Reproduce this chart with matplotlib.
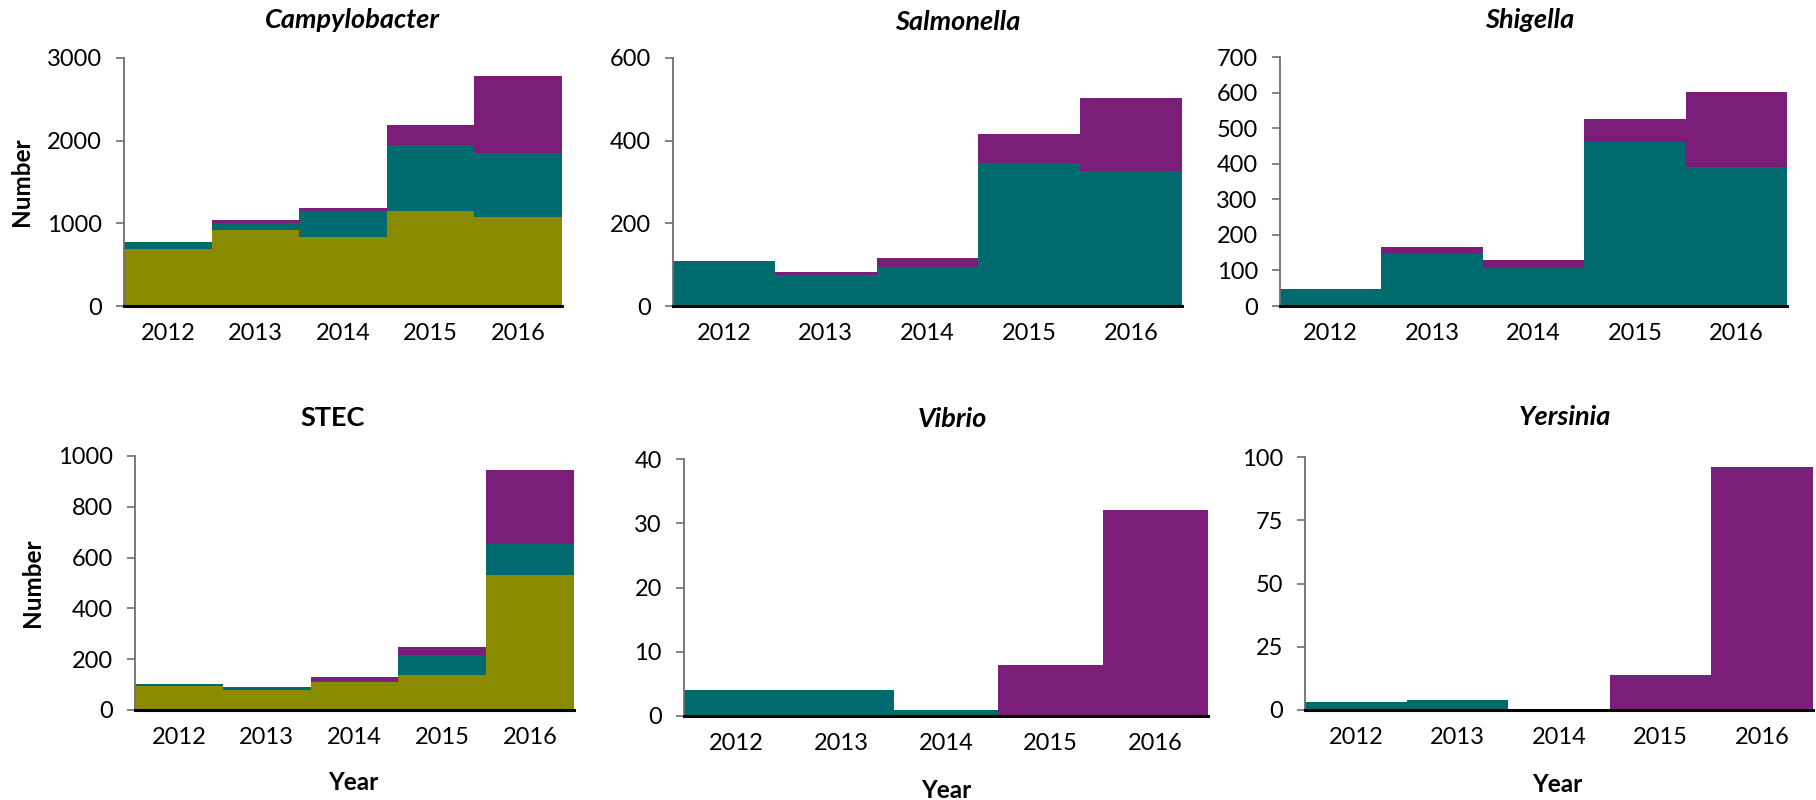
import matplotlib

matplotlib.use("Agg")
import matplotlib.pyplot as plt

plt.rcParams["font.family"] = ["Lato", "DejaVu Sans"]

years = ["2012", "2013", "2014", "2015", "2016"]

# stacked parts per organism: olive (bottom), teal (middle), purple (top)
campy_olive = [685, 918, 838, 1152, 1082]
campy_teal = [84, 89, 310, 793, 767]
campy_purple = [0, 32, 36, 250, 938]

salmo_olive = [0, 0, 0, 0, 0]
salmo_teal = [109, 75, 95, 346, 326]
salmo_purple = [0, 8, 22, 69, 177]

shig_olive = [0, 0, 0, 0, 0]
shig_teal = [49, 145, 106, 461, 390]
shig_purple = [0, 21, 24, 66, 211]

stec_olive = [96, 77, 112, 138, 531]
stec_teal = [8, 12, 3, 77, 123]
stec_purple = [0, 0, 14, 34, 292]

vibrio_olive = [0, 0, 0, 0, 0]
vibrio_teal = [4, 4, 1, 0, 0]
vibrio_purple = [0, 0, 0, 8, 32]

yers_olive = [0, 0, 0, 0, 0]
yers_teal = [3, 4, 0, 0, 0]
yers_purple = [0, 0, 0, 14, 96]

OLIVE = "#8b8b00"
TEAL = "#006b6f"
PURPLE = "#7b1e7a"

FIG_W, FIG_H = 1816, 800


def px_axes(left, top, right, bottom):
    return [left / FIG_W, 1 - bottom / FIG_H, (right - left) / FIG_W, (bottom - top) / FIG_H]


def draw_panel(fig, rect, olive, teal, purple, ymax, ystep):
    ax = fig.add_axes(rect)
    x = range(len(years))
    base2 = [a + b for a, b in zip(olive, teal)]
    ax.bar(x, olive, width=1.0, color=OLIVE, linewidth=0)
    ax.bar(x, teal, width=1.0, bottom=olive, color=TEAL, linewidth=0)
    ax.bar(x, purple, width=1.0, bottom=base2, color=PURPLE, linewidth=0)

    ax.set_xlim(-0.5, len(years) - 0.5)
    ax.set_ylim(0, ymax)
    ax.set_yticks(range(0, ymax + 1, ystep))
    ax.set_xticks(list(x))
    ax.set_xticklabels(years)

    ax.spines["top"].set_visible(False)
    ax.spines["right"].set_visible(False)
    ax.spines["left"].set_color("#6e6e6e")
    ax.spines["left"].set_linewidth(1.3)
    ax.spines["bottom"].set_color("black")
    ax.spines["bottom"].set_linewidth(2.2)
    ax.spines["bottom"].set_zorder(5)

    ax.tick_params(axis="x", length=0, pad=12, labelsize=17)
    ax.tick_params(axis="y", length=6, width=1.2, color="#6e6e6e", pad=10, labelsize=17)
    return ax


def main() -> None:
    fig = plt.figure(figsize=(FIG_W / 100, FIG_H / 100), dpi=100)

    draw_panel(fig, px_axes(124, 58, 562, 306), campy_olive, campy_teal, campy_purple, 3000, 1000)
    draw_panel(fig, px_axes(673, 58, 1182, 306), salmo_olive, salmo_teal, salmo_purple, 600, 200)
    draw_panel(fig, px_axes(1280, 57, 1787, 306), shig_olive, shig_teal, shig_purple, 700, 100)
    draw_panel(fig, px_axes(135, 456, 574, 710), stec_olive, stec_teal, stec_purple, 1000, 200)
    draw_panel(fig, px_axes(684, 459, 1208, 716), vibrio_olive, vibrio_teal, vibrio_purple, 40, 10)
    draw_panel(fig, px_axes(1305, 457, 1813, 710), yers_olive, yers_teal, yers_purple, 100, 25)

    titles = [
        ("Campylobacter", 352, 20, "italic"),
        ("Salmonella", 958, 22, "italic"),
        ("Shigella", 1530, 20, "italic"),
        ("STEC", 333, 418, "normal"),
        ("Vibrio", 952, 419, "italic"),
        ("Yersinia", 1565, 417, "italic"),
    ]
    for text, cx, cy, style in titles:
        fig.text(cx / FIG_W, 1 - cy / FIG_H, text, ha="center", va="center",
                 fontsize=19.5, fontweight="bold", style=style)

    for cx, cy in [(22, 182), (33, 583)]:
        fig.text(cx / FIG_W, 1 - cy / FIG_H, "Number", ha="center", va="center",
                 rotation=90, fontsize=17.5, fontweight="bold")
    for cx, cy in [(353, 783), (946, 790), (1557, 785)]:
        fig.text(cx / FIG_W, 1 - cy / FIG_H, "Year", ha="center", va="center",
                 fontsize=17.5, fontweight="bold")

    fig.savefig("out.png", dpi=100)
    plt.close(fig)


if __name__ == "__main__":
    main()
